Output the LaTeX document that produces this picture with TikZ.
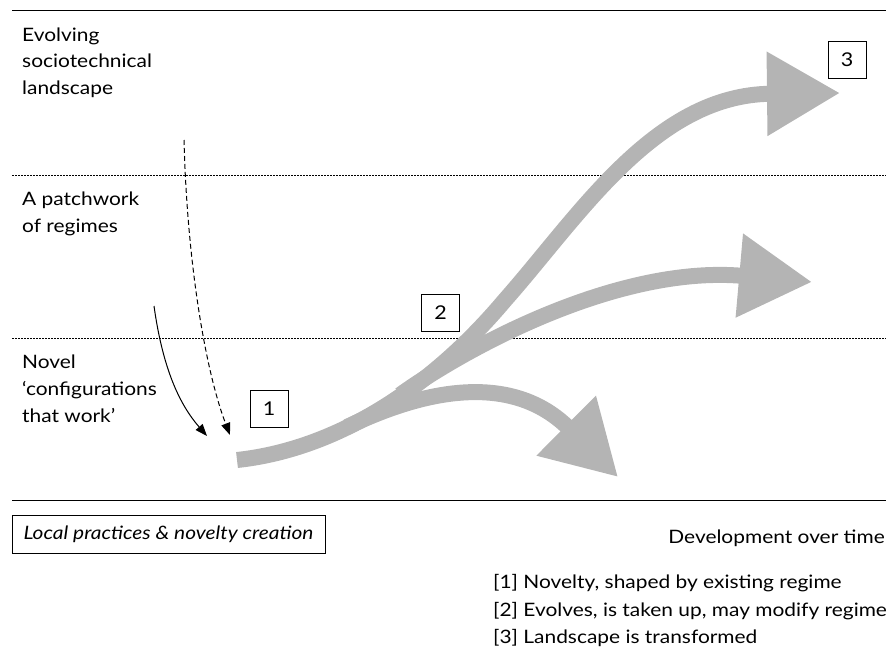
\documentclass[tikz,border=0pt]{standalone}
\usepackage{fontspec}
\setmainfont{Lato}[FakeStretch=1.13]
\usetikzlibrary{arrows.meta}
\definecolor{flow}{RGB}{180,180,180}
\begin{document}
\begin{tikzpicture}[x=1pt,y=-1pt,
  lbl/.style={font=\fontsize{18.5}{22}\selectfont, anchor=base west, inner sep=0pt},
  lblr/.style={font=\fontsize{18.5}{22}\selectfont, anchor=base east, inner sep=0pt},
  numbox/.style={draw, line width=0.9pt, minimum width=38pt, minimum height=37pt, inner sep=0pt, font=\fontsize{19}{22}\selectfont},
  flowline/.style={draw=flow, line width=16pt, -{Triangle[length=73pt,width=80pt]}},
  sepline/.style={line width=0.8pt, dash pattern=on 2pt off 1pt},
  ruleline/.style={line width=1pt},
  thinarrow/.style={line width=1pt, -{Triangle[length=12pt,width=9pt]}}
]
\useasboundingbox (0,0) rectangle (893,650);
% rules
\coordinate (r1l) at (12,11);  \coordinate (r1r) at (886,11);
\coordinate (r2l) at (12,175); \coordinate (r2r) at (886,175);
\coordinate (r3l) at (12,338); \coordinate (r3r) at (886,338);
\coordinate (r4l) at (12,500); \coordinate (r4r) at (886,500);
\draw[ruleline] (r1l) -- (r1r);
\draw[sepline] (r2l) -- (r2r);
\draw[sepline] (r3l) -- (r3r);
\draw[ruleline] (r4l) -- (r4r);
% level labels
\node[lbl] (l1a) at (22,42) {Evolving};
\node[lbl] (l1b) at (22,68) {sociotechnical};
\node[lbl] (l1c) at (22,95) {landscape};
\node[lbl] (l2a) at (22,205) {A patchwork};
\node[lbl] (l2b) at (22,232) {of regimes};
\node[lbl] (l3a) at (22,368) {Novel};
\node[lbl] (l3b) at (22,395) {‘configurations};
\node[lbl] (l3c) at (22,422) {that work’};
% flows
\coordinate (fs) at (237,460);
\coordinate (fa) at (505,300);
\coordinate (t3) at (840,93);
\coordinate (ms) at (400,395);
\coordinate (t2) at (812,282);
\coordinate (ls) at (347,427);
\coordinate (t1) at (618,477);
\draw[flowline] (ls) .. controls (407,398) and (505,365) .. (t1);
\draw[flowline] (ms) .. controls (470,345) and (620,265) .. (t2);
\draw[flowline] (fs) .. controls (330,450) and (425,395) .. (fa) .. controls (580,215) and (655,95) .. (t3);
% influence arrows
\coordinate (a1s) at (154,306); \coordinate (a1e) at (207,436);
\coordinate (a2s) at (184,140); \coordinate (a2e) at (230,435);
\draw[thinarrow] (a1s) .. controls (163,370) and (180,405) .. (a1e);
\draw[thinarrow, dash pattern=on 5pt off 3pt] (a2s) .. controls (187,260) and (205,370) .. (a2e);
% number boxes
\node[numbox] (b1) at (269,408.5) {1};
\node[numbox] (b2) at (440.5,313) {2};
\node[numbox] (b3) at (847,60) {3};
% bottom
\node[draw, line width=0.9pt, minimum width=313pt, minimum height=38pt, inner sep=0pt, font=\fontsize{18.5}{22}\selectfont\itshape] (local) at (168.5,534) {Local practices \& novelty creation};
\node[lblr] (dev) at (885,543) {Development over time};
\node[lbl] (k1) at (493,588) {[1] Novelty, shaped by existing regime};
\node[lbl] (k2) at (493,616) {[2] Evolves, is taken up, may modify regime};
\node[lbl] (k3) at (493,643) {[3] Landscape is transformed};
\end{tikzpicture}
\end{document}
